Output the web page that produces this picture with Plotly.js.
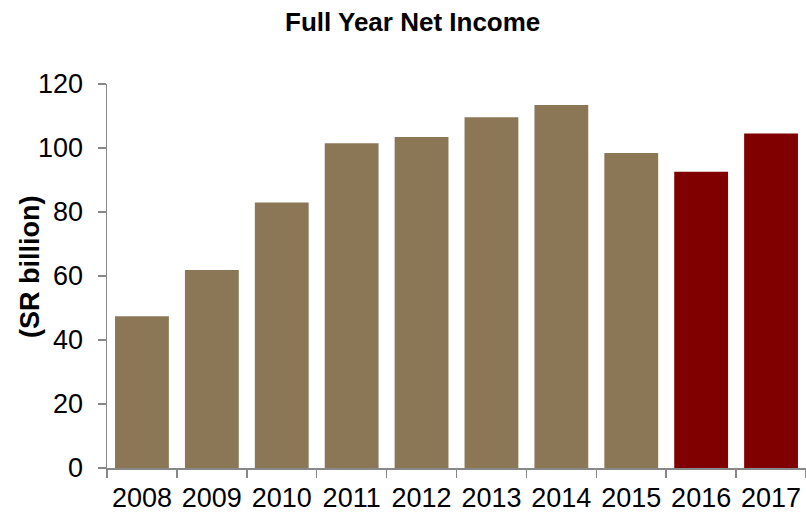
<!DOCTYPE html>
<html>
<head>
<meta charset="utf-8">
<script src="https://cdn.plot.ly/plotly-3.0.1.min.js"></script>
<style>html,body{margin:0;padding:0;background:#fff;}#chart{width:806px;height:512px;}</style>
</head>
<body>
<div id="chart"></div>
<script>
var years = ["2008","2009","2010","2011","2012","2013","2014","2015","2016","2017"];
var netIncome = [47.4, 61.9, 83.0, 101.5, 103.4, 109.6, 113.4, 98.4, 92.6, 104.5];
var barColors = ["#8B7756","#8B7756","#8B7756","#8B7756","#8B7756","#8B7756","#8B7756","#8B7756","#800000","#800000"];
var yTicks = [0, 20, 40, 60, 80, 100, 120];

var font = "Arial, 'Liberation Sans', sans-serif";
var trace = {
  type: "bar",
  x: years,
  y: netIncome,
  width: 0.77,
  marker: {color: barColors, line: {width: 0}},
  hoverinfo: "x+y"
};
var layout = {
  width: 806, height: 512,
  margin: {l: 107, r: 0, t: 84, b: 44},
  paper_bgcolor: "#fff", plot_bgcolor: "#fff",
  showlegend: false,
  title: {text: "<b>Full Year Net Income</b>", font: {family: font, size: 26, color: "#000"},
          x: 0.512, xref: "container", xanchor: "center", y: 0.957, yref: "container", yanchor: "middle"},
  xaxis: {
    type: "category",
    showline: true, linecolor: "#888", linewidth: 1.5,
    ticks: "outside", tickcolor: "#888", ticklen: 8, tickwidth: 1.5,
    tickson: "boundaries",
    ticklabelstandoff: 5,
    tickfont: {family: font, size: 27, color: "#000"},
    showgrid: false, zeroline: false
  },
  yaxis: {
    range: [0, 120],
    tickvals: yTicks,
    showline: true, linecolor: "#888", linewidth: 1.5,
    ticks: "outside", tickcolor: "#888", ticklen: 8, tickwidth: 1.5,
    ticklabelstandoff: 9,
    tickfont: {family: font, size: 27, color: "#000"},
    showgrid: false, zeroline: false
  },
  annotations: [{
    text: "<b>(SR billion)</b>", textangle: -90, showarrow: false,
    xref: "paper", yref: "paper", x: (30 - 107) / 699, y: (468 - 267) / 384,
    xanchor: "center", yanchor: "middle",
    font: {family: font, size: 27, color: "#000"}
  }]
};
Plotly.newPlot("chart", [trace], layout, {displayModeBar: false, staticPlot: true});
</script>
</body>
</html>
